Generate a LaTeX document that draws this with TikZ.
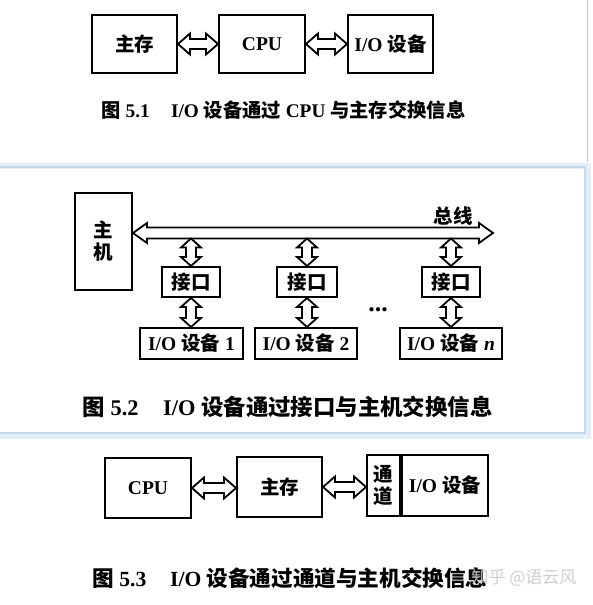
\documentclass[tikz,border=0pt]{standalone}
\usepackage{fontspec}
\setmainfont{Liberation Serif}
\newfontfamily\cjk{Noto Sans CJK SC}
\newcommand{\zh}[1]{{\cjk #1}}
\newcommand{\bxfont}{\fontsize{19.5}{22}\selectfont\bfseries}
\newcommand{\capfont}{\fontsize{19.3}{22}\selectfont\bfseries}
\usetikzlibrary{calc}
\definecolor{panelblue}{RGB}{196,216,238}
\definecolor{panelglow}{RGB}{228,238,249}
\begin{document}
\begin{tikzpicture}[x=1pt,y=-1pt,
  box/.style={draw,line width=2pt,inner sep=0pt,font=\bxfont,fill=white},
  captxt/.style={inner sep=0pt,font=\capfont},
  dblh/.style n args={3}{draw,line width=1.8pt,line join=miter,fill=white,
    to path={let \p1=(\tikztostart), \p2=(\tikztotarget) in
      (\x1,\y1) -- (\x1+#1,\y1+#2) -- (\x1+#1,\y1+#3) -- (\x2-#1,\y1+#3) -- (\x2-#1,\y1+#2)
      -- (\x2,\y1) -- (\x2-#1,\y1-#2) -- (\x2-#1,\y1-#3) -- (\x1+#1,\y1-#3) -- (\x1+#1,\y1-#2) -- cycle}},
  dblv/.style n args={3}{draw,line width=1.8pt,line join=miter,fill=white,
    to path={let \p1=(\tikztostart), \p2=(\tikztotarget) in
      (\x1,\y1) -- (\x1+#2,\y1-#1) -- (\x1+#3,\y1-#1) -- (\x1+#3,\y2+#1) -- (\x1+#2,\y2+#1)
      -- (\x1,\y2) -- (\x1-#2,\y2+#1) -- (\x1-#3,\y2+#1) -- (\x1-#3,\y1-#1) -- (\x1-#2,\y1-#1) -- cycle}},
  link/.style={dblh={12pt}{10.5pt}{5pt}},
  vlink/.style={dblv={9pt}{10pt}{5pt}},
  busarrow/.style={dblh={14pt}{10pt}{5.5pt}}
]
\useasboundingbox (0,0) rectangle (592,605);
\fill[white] (0,0) rectangle (592,605);

% page edge at top right
\draw[gray!45,line width=1pt] (587,0) -- (587,162);

% ---------- Fig 5.1 ----------
\node[box,minimum width=85pt,minimum height=58pt] (m1) at (134.5,44) {\zh{主存}};
\node[box,minimum width=86pt,minimum height=58pt] (c1) at (262,44) {CPU};
\node[box,minimum width=85pt,minimum height=58pt] (io1) at (390.5,44) {I/O \zh{设备}};
\draw[link] (m1.east) to (c1.west);
\draw[link] (c1.east) to (io1.west);
\node[captxt] (cap1) at (283.5,110) {\zh{图} 5.1\hspace{1.1em}I/O \zh{设备通过} CPU \zh{与主存交换信息}};

% ---------- Fig 5.2 panel ----------
\draw[panelglow,line width=9pt] (-10,167) rectangle (586,434);
\draw[panelblue,line width=2.5pt] (-10,167) rectangle (585,433);
\fill[white] (-10,168.5) rectangle (583.7,431.7);

\node[box,minimum width=57pt,minimum height=97pt,align=center] (host) at (103.5,241.5) {\zh{主}\\\zh{机}};
\coordinate (busend) at (493,233);
\coordinate (busbot) at (0,238.5);
\draw[busarrow] (host.east |- busend) to (busend);
\node[inner sep=0pt,font=\bxfont] (buslbl) at (453,216) {\zh{总线}};

\node[box,minimum width=58pt,minimum height=30pt] (k1) at (191,282) {\zh{接口}};
\node[box,minimum width=60pt,minimum height=30pt] (k2) at (307,282) {\zh{接口}};
\node[box,minimum width=58pt,minimum height=30pt] (k3) at (451,282) {\zh{接口}};

\node[box,minimum width=103pt,minimum height=31pt] (d1) at (191.5,343.5) {I/O \zh{设备} 1};
\node[box,minimum width=102pt,minimum height=31pt] (d2) at (306,343.5) {I/O \zh{设备} 2};
\node[box,minimum width=102pt,minimum height=31pt] (dn) at (451,343.5) {I/O \zh{设备} \textit{n}};

\draw[vlink] (k1.north |- busbot) to (k1.north);
\draw[vlink] (k2.north |- busbot) to (k2.north);
\draw[vlink] (k3.north |- busbot) to (k3.north);
\draw[vlink] (k1.south) to (d1.north);
\draw[vlink] (k2.south) to (d2.north);
\draw[vlink] (k3.south) to (dn.north);

\node[inner sep=0pt,font=\fontsize{26}{26}\selectfont\bfseries] (dots) at (378,310) {...};

\node[captxt,font=\fontsize{22.4}{24}\selectfont\bfseries] (cap2) at (287.5,407) {\zh{图} 5.2\hspace{1.1em}I/O \zh{设备通过接口与主机交换信息}};

% ---------- Fig 5.3 ----------
\node[box,minimum width=86pt,minimum height=60pt] (c3) at (148,488) {CPU};
\node[box,minimum width=85pt,minimum height=60pt] (m3) at (279.5,487) {\zh{主存}};
\node[box,minimum width=33pt,minimum height=61pt,align=center] (ch) at (383.5,485.5) {\zh{通}\\\zh{道}};
\node[box,minimum width=86pt,minimum height=61pt,anchor=west] (io3) at (ch.east) {I/O \zh{设备}};
\draw[link] (c3.east) to (m3.west);
\draw[link] (m3.east) to (ch.west);

\node[captxt,font=\fontsize{21.6}{24}\selectfont\bfseries] (cap3) at (290,578) {\zh{图} 5.3\hspace{1.1em}I/O \zh{设备通过通道与主机交换信息}};
\node[inner sep=0pt,font=\fontsize{17}{18}\selectfont,text=gray!45,opacity=0.85] (wm) at (524,578) {\zh{知乎 @语云风}};
\end{tikzpicture}
\end{document}
